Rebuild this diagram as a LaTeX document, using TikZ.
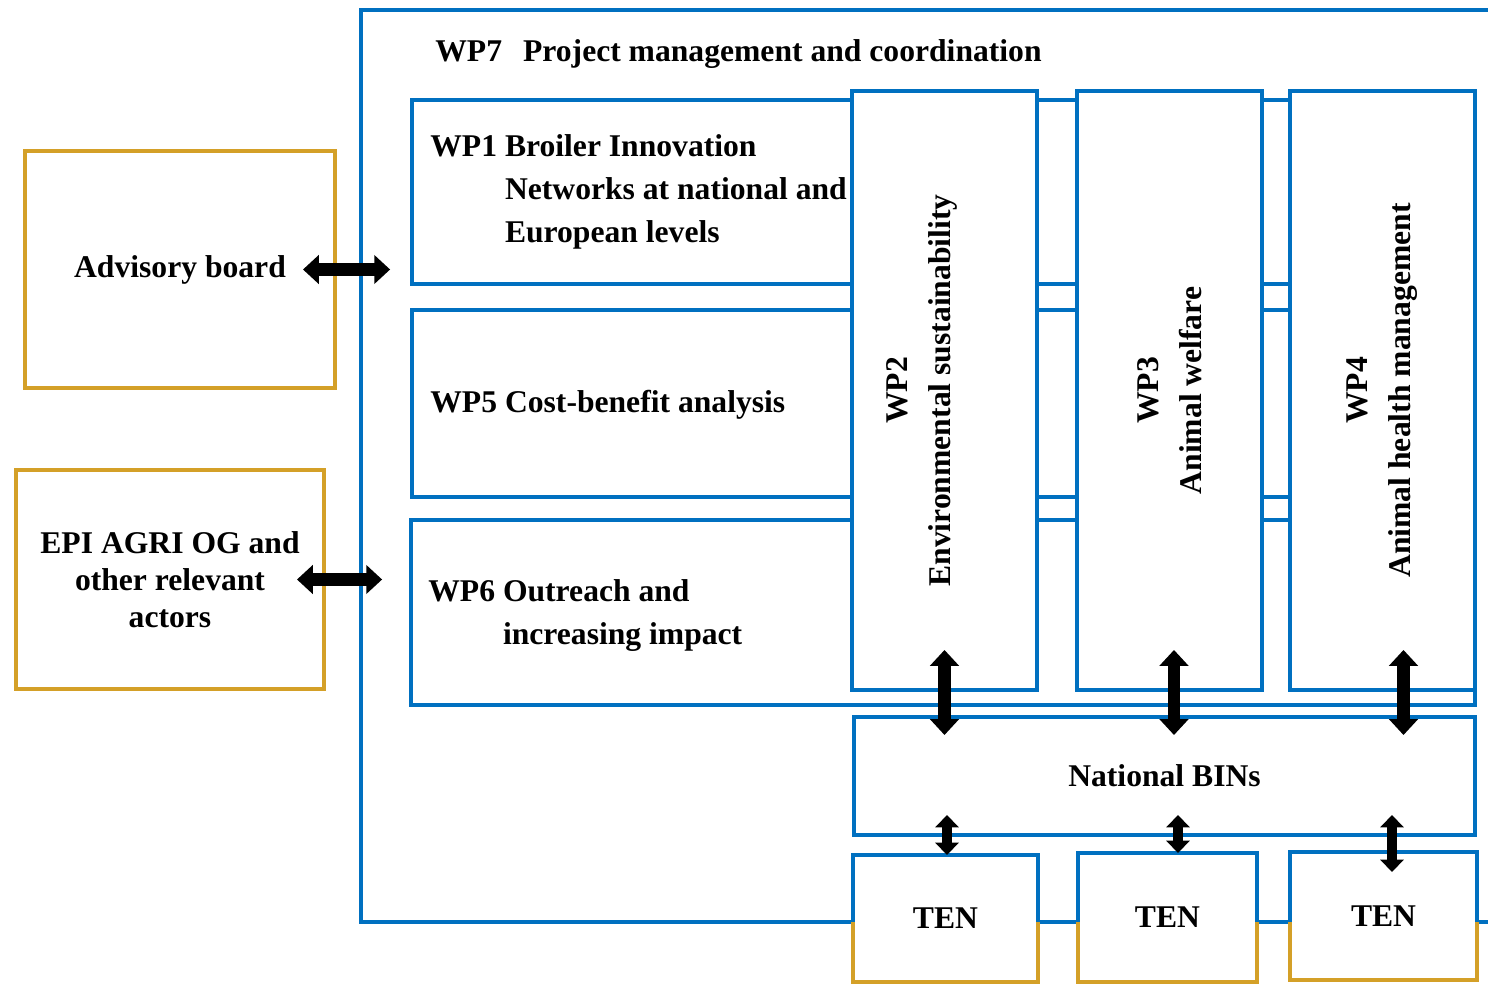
\documentclass[tikz,border=0pt]{standalone}
\usepackage{fontspec}
\setmainfont{Liberation Serif}
\usetikzlibrary{arrows.meta}
\definecolor{wpblue}{RGB}{0,112,192}
\definecolor{wporange}{RGB}{212,160,40}
\tikzset{
	wpbox/.style={draw=wpblue,line width=2.2pt,fill=white,inner sep=0pt,outer sep=0pt},
	sidebox/.style={draw=wporange,line width=2.2pt,fill=white,align=center,inner sep=0pt,outer sep=0pt},
	wptext/.style={font=\fontsize{18}{24.5}\selectfont\bfseries},
	bigarrow/.style={line width=7pt,{Triangle[length=9pt,width=16pt]}-{Triangle[length=9pt,width=16pt]}},
	smallarrow/.style={line width=6pt,{Triangle[length=7pt,width=13pt]}-{Triangle[length=7pt,width=13pt]}}
}
\begin{document}
\begin{tikzpicture}[x=0.02cm,y=-0.02cm,wptext]
	\useasboundingbox (0,0) rectangle (1488,984);
	\clip (0,0) rectangle (1488,984);
	% WP7 frame
	\node[wpbox,fill=none,minimum width=22.98cm,minimum height=18.24cm] (wp7) at (935.5,466) {};
	\node[anchor=west,inner sep=0pt] (wp7text) at (435,54) {WP7\hspace{0.42cm}Project management and coordination};
	% horizontal work packages
	\node[wpbox,minimum width=21.26cm,minimum height=3.68cm] (wp1) at (943.5,192) {};
	\node[wpbox,minimum width=21.26cm,minimum height=3.74cm] (wp5) at (943.5,403.5) {};
	\node[wpbox,minimum width=21.28cm,minimum height=3.7cm] (wp6) at (943,612.5) {};
	\node[anchor=west,inner sep=0pt] (wp1text) at (430,191) {\begin{tabular}{@{}l@{ }l@{}}WP1 & Broiler Innovation\\ & Networks at national and\\ & European levels\end{tabular}};
	\node[anchor=west,inner sep=0pt] (wp5text) at (430,405) {WP5 Cost-benefit analysis};
	\node[anchor=west,inner sep=0pt] (wp6text) at (428,614) {\begin{tabular}{@{}l@{ }l@{}}WP6 & Outreach and\\ & increasing impact\end{tabular}};
	% vertical work packages
	\foreach \w/\x in {wp2/944.5,wp3/1169.5,wp4/1382.5}
		\node[wpbox,minimum width=3.7cm,minimum height=11.98cm] (\w) at (\x,390.5) {};
	\node[rotate=90,align=center] (wp2text) at ([xshift=-0.46cm]wp2.center) {WP2\\Environmental sustainability};
	\node[rotate=90,align=center] (wp3text) at (wp3.center) {WP3\\Animal welfare};
	\node[rotate=90,align=center] (wp4text) at (wp4.center) {WP4\\Animal health management};
	% networks
	\node[wpbox,minimum width=12.42cm,minimum height=2.36cm] (bins) at (1164.5,776) {National BINs};
	\node[sidebox,minimum width=3.7cm,minimum height=2.54cm] (ten1) at (945.5,918.5) {TEN};
	\node[sidebox,minimum width=3.58cm,minimum height=2.58cm] (ten2) at (1167.5,917.5) {TEN};
	\node[sidebox,minimum width=3.74cm,minimum height=2.56cm] (ten3) at (1383.5,916) {TEN};
	\foreach \t in {ten1,ten2,ten3}
		\draw[wpblue,line width=2.2pt] (\t.west |- wp7.south) |- (\t.north east) -- (\t.east |- wp7.south);
	% outside actors
	\node[sidebox,minimum width=6.2cm,minimum height=4.74cm] (adv) at (180,269.5) {Advisory board};
	\node[sidebox,minimum width=6.16cm,minimum height=4.38cm,font=\fontsize{18}{21}\selectfont\bfseries] (epi) at (170,579.5) {EPI AGRI OG and\\other relevant\\actors};
	% arrows
	\draw[bigarrow,shorten <=-0.64cm,shorten >=0.44cm] (adv.east) -- (adv.east -| wp1.west);
	\draw[bigarrow,shorten <=-0.54cm,shorten >=0.58cm] (epi.east) -- (epi.east -| wp6.west);
	\foreach \w/\s in {wp2/0,wp3/0.09,wp4/0.42}
		{
			\coordinate (arr\w) at ([xshift=\s cm]\w.south);
			\draw[bigarrow,shorten <=-0.8cm,shorten >=-0.36cm] (arr\w) -- (arr\w |- bins.north);
		}
	\foreach \t/\s/\e in {ten1/0.03/0,ten2/0.21/0,ten3/0.17/0.4}
		{
			\coordinate (arr\t) at ([xshift=\s cm]\t.north);
			\draw[smallarrow,shorten <=-\e cm,shorten >=-0.4cm] (arr\t) -- (arr\t |- bins.south);
		}
\end{tikzpicture}
\end{document}
